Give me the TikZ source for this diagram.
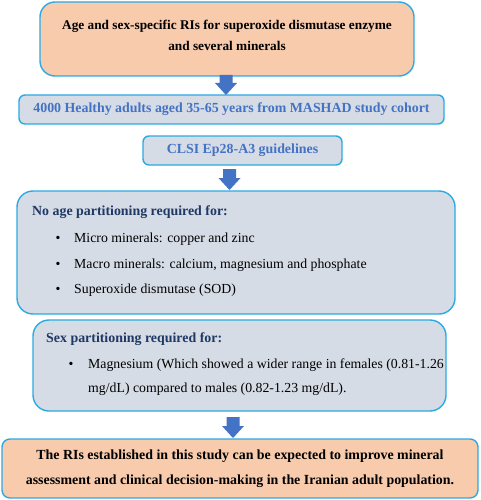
\documentclass[tikz,border=0pt]{standalone}
\usepackage{fontspec}
\setmainfont{Liberation Serif}
\definecolor{orfill}{HTML}{F8CBAD}
\definecolor{gbfill}{HTML}{D6DCE5}
\definecolor{bord}{HTML}{2BAAE2}
\definecolor{tblue}{HTML}{4472C4}
\definecolor{navy}{HTML}{1F3864}
\definecolor{arr}{HTML}{4472C4}
\newcommand{\blockarr}[3]{% center x, top y, tip y
  \fill[arr] (#1-6.5,#2) -- (#1+6.5,#2) -- (#1+6.5,#3-12) -- (#1+11,#3-12) -- (#1,#3) -- (#1-11,#3-12) -- (#1-6.5,#3-12) -- cycle;}
\begin{document}
\begin{tikzpicture}[x=1pt,y=-1pt,
  box/.style={draw=bord,line width=1.4pt,inner sep=0pt},
  bodytxt/.style={anchor=base west,font=\fontsize{13.8}{16}\selectfont,inner sep=0pt},
  bul/.style={anchor=base,font=\fontsize{13.8}{16}\selectfont,inner sep=0pt},
  hd/.style={font=\bfseries\fontsize{13.9}{16}\selectfont,inner sep=0pt}]
\useasboundingbox (0,0) rectangle (480,500);
% boxes
\node[box,fill=orfill,rounded corners=15pt,minimum width=374pt,minimum height=74pt] (b1) at (227,39) {};
\node[box,fill=gbfill,rounded corners=6pt,minimum width=425pt,minimum height=29pt] (b2) at (231.5,109.5) {};
\node[box,fill=gbfill,rounded corners=6pt,minimum width=199pt,minimum height=29pt] (b3) at (242.5,150.5) {};
\node[box,fill=gbfill,rounded corners=16pt,minimum width=438pt,minimum height=123pt] (b4) at (236,252.5) {};
\node[box,fill=gbfill,rounded corners=16pt,minimum width=413pt,minimum height=91pt] (b5) at (239.5,365.5) {};
\node[box,fill=orfill,rounded corners=8pt,minimum width=476pt,minimum height=59pt] (b6) at (240,468.5) {};
% block arrows
\blockarr{226}{75}{95}
\blockarr{229.5}{169}{190}
\blockarr{233}{417}{438}
% texts
\node[hd,align=center,font=\bfseries\fontsize{13.3}{21}\selectfont] (t1) at (227,35) {Age and sex-specific RIs for superoxide dismutase enzyme\\and several minerals};
\node[hd,text=tblue] (t2) at (b2.center) {4000 Healthy adults aged 35-65 years from MASHAD study cohort};
\node[hd,text=tblue] (t3) at (b3.center) {CLSI Ep28-A3 guidelines};
\node[hd,text=navy,anchor=base west] (h4) at (32,215) {No age partitioning required for:};
\node[bul] (p1) at (58,242) {\textbullet};
\node[bodytxt] (l1) at (74,242) {Micro minerals: copper and zinc};
\node[bul] (p2) at (58,268) {\textbullet};
\node[bodytxt] (l2) at (74,268) {Macro minerals: calcium, magnesium and phosphate};
\node[bul] (p3) at (58,293) {\textbullet};
\node[bodytxt] (l3) at (74,293) {Superoxide dismutase (SOD)};
\node[hd,text=navy,anchor=base west] (h5) at (46,342) {Sex partitioning required for:};
\node[bul] (p4) at (71,368) {\textbullet};
\node[bodytxt] (l4) at (88,368) {Magnesium (Which showed a wider range in females (0.81-1.26};
\node[bodytxt] (l5) at (88,392) {mg/dL) compared to males (0.82-1.23 mg/dL).};
\node[hd,align=center,font=\bfseries\fontsize{13.9}{24.5}\selectfont] (t6) at (b6.center) {The RIs established in this study can be expected to improve mineral\\assessment and clinical decision-making in the Iranian adult population.};
\end{tikzpicture}
\end{document}
